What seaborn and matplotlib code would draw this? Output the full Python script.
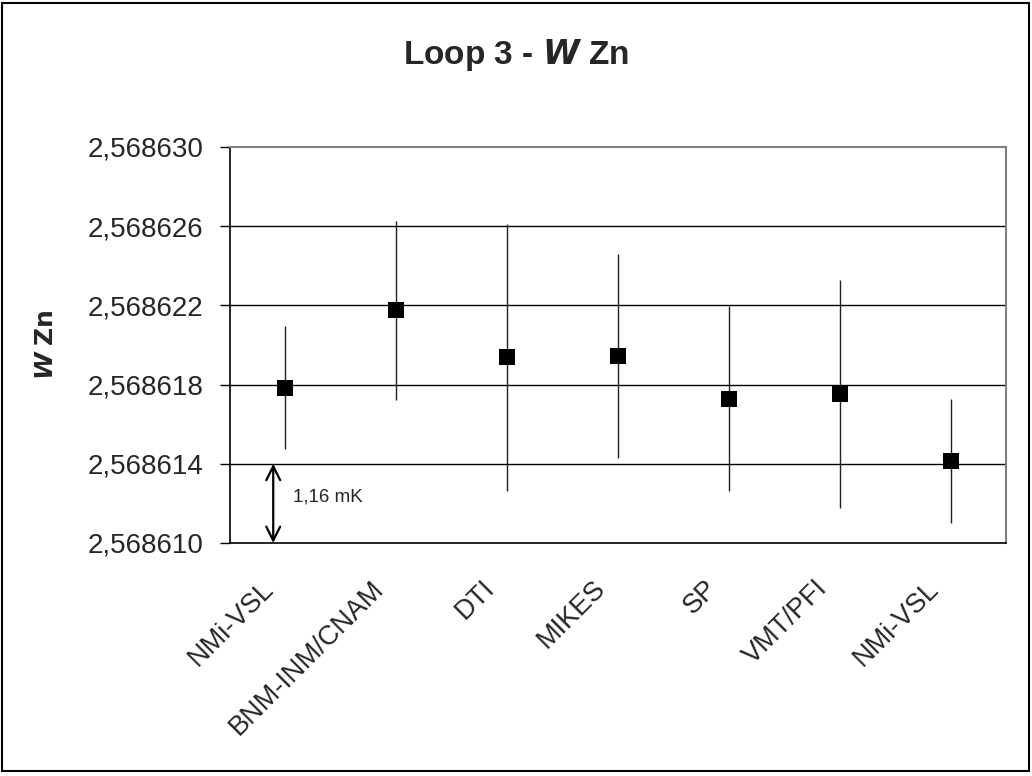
import matplotlib
matplotlib.use("Agg")
import matplotlib.pyplot as plt
import matplotlib.transforms as mtransforms
import seaborn as sns
import numpy as np
import pandas as pd
from matplotlib.patches import Rectangle

labs = ["NMi-VSL", "BNM-INM/CNAM", "DTI", "MIKES", "SP", "VMT/PFI", "NMi-VSL"]
base = 2.568610
offs = [7.85, 11.75, 9.38, 9.45, 7.28, 7.52, 4.15]      # in 1e-6 above base
errs = [3.09, 4.51, 6.74, 5.15, 4.67, 5.74, 3.13]       # in 1e-6
yticks = [2.568610, 2.568614, 2.568618, 2.568622, 2.568626, 2.568630]

sns.set_theme(style="white")
plt.rcParams['font.family'] = ['Liberation Sans', 'DejaVu Sans']

df = pd.DataFrame({
    "pos": np.arange(len(labs)),
    "val": [base + o * 1e-6 for o in offs],
    "err": [e * 1e-6 for e in errs],
})

fig = plt.figure(figsize=(10.32, 7.76), dpi=100)
ax = fig.add_axes([230/1032, 1 - 543/776, (1006-230)/1032, (543-147)/776])

ax.errorbar(df["pos"], df["val"], yerr=df["err"], fmt="none",
            ecolor="#222222", elinewidth=1.0, capsize=0, zorder=3)
sns.scatterplot(data=df, x="pos", y="val", marker="s", s=140, color="black",
                edgecolor="black", linewidth=0, ax=ax, zorder=4, legend=False)

ax.set_xlim(-0.5, len(labs) - 0.5)
ax.set_ylim(yticks[0], yticks[-1])
ax.set_yticks(yticks)
ax.set_yticklabels([f"{v:.6f}".replace(".", ",") for v in yticks], fontsize=20)
for v in yticks[1:-1]:
    ax.axhline(v, color="black", lw=1.0, zorder=1)

ax.set_xticks(np.arange(len(labs)))
ax.set_xticklabels(labs, rotation=45, ha="right", va="center",
                   rotation_mode="anchor", fontsize=19.5)
ax.tick_params(axis="x", length=0, pad=30)
offset = mtransforms.ScaledTranslation(-16/100, 0, fig.dpi_scale_trans)
for lab in ax.get_xticklabels():
    lab.set_transform(lab.get_transform() + offset)
ax.set_xticks(np.arange(len(labs) + 1) - 0.5, minor=True)
ax.tick_params(axis="x", which="minor", length=7, width=1, color="black", direction="out")
ax.tick_params(axis="y", length=7, width=1, color="black", direction="out", pad=12, left=True)
ax.set_xlabel("")
ax.set_ylabel(r"$\bfit{W}$ $\bf{Zn}$", fontsize=18)
ax.yaxis.set_label_coords(-0.222, 0.5)

for side in ["left", "bottom"]:
    ax.spines[side].set_color("black")
    ax.spines[side].set_linewidth(1.2)
for side in ["top", "right"]:
    ax.spines[side].set_color("#808080")
    ax.spines[side].set_linewidth(1.5)

# double arrow annotation
ax.annotate("", xy=(-0.11, yticks[0]), xytext=(-0.11, yticks[1]),
            arrowprops=dict(arrowstyle="<->", color="black", lw=1.6,
                            mutation_scale=25, shrinkA=0, shrinkB=0))
ax.text(0.07, base + 2.3e-6, "1,16 mK", fontsize=13.5, va="center", ha="left")

fig.text(0.5, 1 - 55/776, r"Loop 3 - $\bfit{W}$ Zn", ha="center", va="center",
         fontsize=24, fontweight="bold")

fig.patches.append(Rectangle((2/1032, 1 - 771/776), 1027/1032, 768/776,
                             transform=fig.transFigure, fill=False,
                             edgecolor="black", lw=1.5))

fig.savefig("out.png", dpi=100)
